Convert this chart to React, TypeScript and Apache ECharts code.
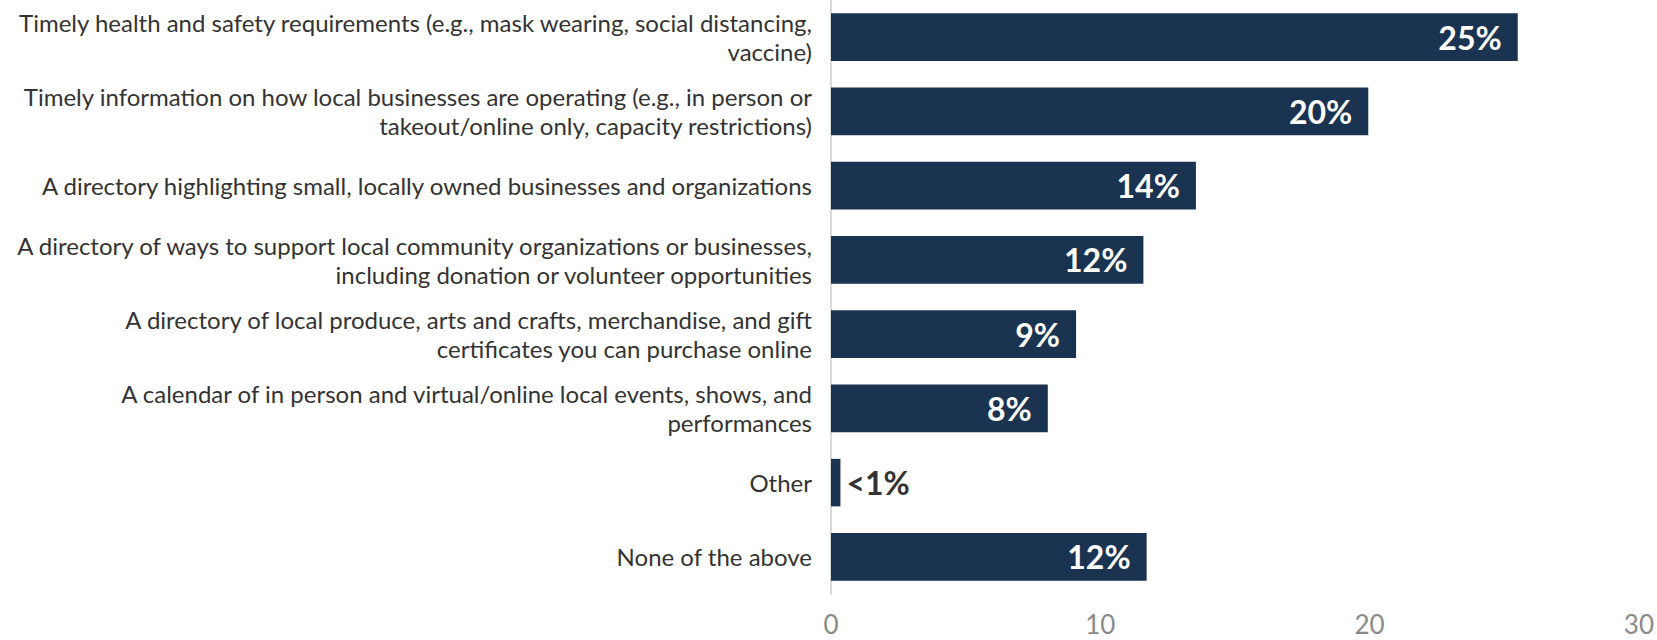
import React, { useEffect, useRef } from "react";
import * as echarts from "echarts";

const categories: string[] = [
  "Timely health and safety requirements (e.g., mask wearing, social distancing,\nvaccine)",
  "Timely information on how local businesses are operating (e.g., in person or\ntakeout/online only, capacity restrictions)",
  "A directory highlighting small, locally owned businesses and organizations",
  "A directory of ways to support local community organizations or businesses,\nincluding donation or volunteer opportunities",
  "A directory of local produce, arts and crafts, merchandise, and gift\ncertificates you can purchase online",
  "A calendar of in person and virtual/online local events, shows, and\nperformances",
  "Other",
  "None of the above",
];

const values: number[] = [25.5, 19.95, 13.55, 11.6, 9.1, 8.05, 0.35, 11.72];
const valueLabels: string[] = ["25%", "20%", "14%", "12%", "9%", "8%", "<1%", "12%"];
const xTicks: number[] = [0, 10, 20, 30];

const BAR_COLOR = "#1a3350";

export default function App() {
  const ref = useRef<HTMLDivElement>(null);

  useEffect(() => {
    if (!ref.current) return;
    const chart = echarts.init(ref.current, null, { renderer: "svg" });
    const data = values.map((v, i) => {
      const small = v < 2;
      return {
        value: v,
        label: small
          ? {
              show: true,
              position: "right",
              distance: 6,
              color: "#333333",
              formatter: valueLabels[i],
            }
          : {
              show: true,
              position: "insideRight",
              offset: [-11, 0],
              color: "#ffffff",
              formatter: valueLabels[i],
            },
      };
    });
    chart.setOption({
      animation: false,
      backgroundColor: "#ffffff",
      grid: { left: 831, right: 18, top: 0, bottom: 46, containLabel: false },
      xAxis: {
        type: "value",
        min: xTicks[0],
        max: xTicks[xTicks.length - 1],
        interval: 10,
        axisLine: { show: false },
        axisTick: { show: false },
        splitLine: { show: false },
        axisLabel: {
          color: "#8a8a8a",
          fontFamily: "Lato",
          fontSize: 26,
          lineHeight: 26,
          margin: 17,
        },
      },
      yAxis: {
        type: "category",
        data: categories,
        inverse: true,
        axisLine: { show: true, lineStyle: { color: "#cccccc", width: 1.5 } },
        axisTick: { show: false },
        axisLabel: {
          color: "#333333",
          fontFamily: "Lato",
          fontSize: 24,
          lineHeight: 29,
          margin: 19,
          align: "right",
        },
      },
      series: [
        {
          type: "bar",
          data,
          barCategoryGap: "36%",
          itemStyle: { color: BAR_COLOR },
          label: {
            fontFamily: "Lato",
            fontWeight: "bold",
            fontSize: 32,
          },
        },
      ],
    });
    return () => chart.dispose();
  }, []);

  return (
    <div
      ref={ref}
      style={{ position: "fixed", left: 0, top: 0, width: 1657, height: 640 }}
    />
  );
}
